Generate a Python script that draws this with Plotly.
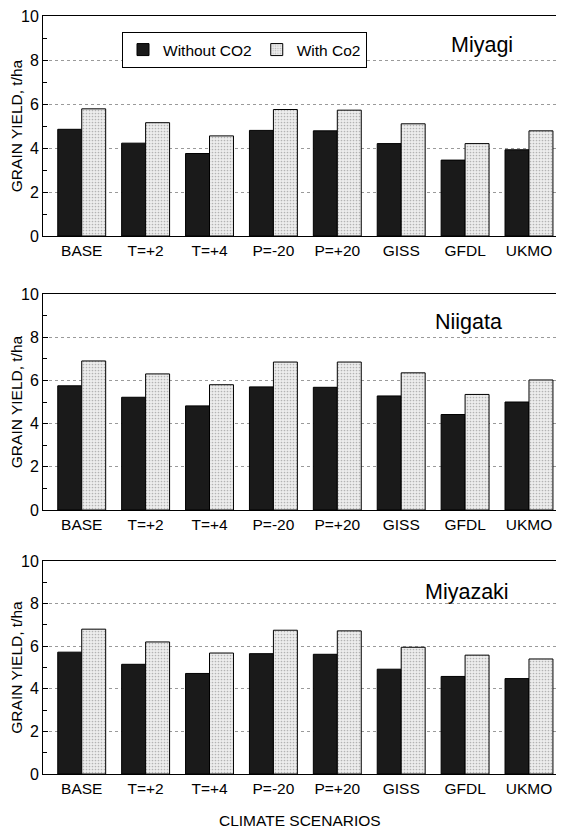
import plotly.graph_objects as go

scenarios = ["BASE", "T=+2", "T=+4", "P=-20", "P=+20", "GISS", "GFDL", "UKMO"]
sites = ["Miyagi", "Niigata", "Miyazaki"]

miyagi_without = [4.85, 4.22, 3.75, 4.80, 4.78, 4.20, 3.45, 3.92]
miyagi_with = [5.78, 5.15, 4.55, 5.75, 5.72, 5.10, 4.20, 4.78]
niigata_without = [5.75, 5.22, 4.82, 5.70, 5.68, 5.28, 4.42, 5.00]
niigata_with = [6.90, 6.30, 5.80, 6.85, 6.85, 6.35, 5.35, 6.02]
miyazaki_without = [5.72, 5.15, 4.72, 5.65, 5.62, 4.92, 4.58, 4.48]
miyazaki_with = [6.80, 6.20, 5.68, 6.75, 6.72, 5.95, 5.58, 5.40]

without_series = [miyagi_without, niigata_without, miyazaki_without]
with_series = [miyagi_with, niigata_with, miyazaki_with]

# page body has an 8px margin, so the figure is drawn 8px lower/right
OFF = 8
W, H = 564 - OFF, 829 - OFF
ml, mr, mt, mb = 43 - OFF, 0, 16 - OFF, 55
ph = H - mt - mb
pw = W - ml - mr


def py(pix):
    return (H - mb - (pix - OFF)) / ph


def px(pix):
    return (pix - OFF - ml) / pw


# panel pixel extents in the reference (top, bottom)
panels = [(16, 236), (294, 510), (561, 774)]
site_label_pos = [(482, 45), (468, 322), (467, 592)]

FONT = "Liberation Sans, Arial, sans-serif"
FS = 15.5

fig = go.Figure()
for i in range(3):
    ax = "" if i == 0 else str(i + 1)
    fig.add_trace(go.Bar(
        x=scenarios, y=without_series[i], name="Without CO2",
        marker=dict(color="#1a1a1a", line=dict(color="black", width=1)),
        xaxis="x" + ax, yaxis="y" + ax, showlegend=(i == 0),
    ))
    fig.add_trace(go.Bar(
        x=scenarios, y=with_series[i], name="With Co2",
        marker=dict(color="#e0e0e0", line=dict(color="black", width=1),
                    pattern=dict(shape=".", fgcolor="#7a7a7a", bgcolor="#ededed",
                                 size=3, solidity=0.25)),
        xaxis="x" + ax, yaxis="y" + ax, showlegend=(i == 0),
    ))
    top, bot = panels[i]
    xa = dict(domain=[0, 1], anchor="y" + ax, showline=True, linecolor="black",
              linewidth=1, mirror=True, ticks="", showgrid=False,
              range=[-0.606, 7.548],
              tickfont=dict(family=FONT, size=FS, color="black"))
    ya = dict(domain=[py(bot), py(top)], anchor="x" + ax, range=[0, 10],
              tickvals=[0, 2, 4, 6, 8, 10], showline=True, linecolor="black",
              linewidth=1, ticks="inside", ticklen=5, tickcolor="black",
              ticklabeloverflow="allow",
              minor=dict(tickvals=[1, 3, 5, 7, 9], ticks="inside", ticklen=4,
                         tickcolor="black"),
              showgrid=True, gridcolor="#9a9a9a", griddash="dot", gridwidth=1,
              zeroline=False,
              tickfont=dict(family=FONT, size=16, color="black"),
              title=dict(text="GRAIN YIELD, t/ha", standoff=3,
                         font=dict(family=FONT, size=FS, color="black")))
    fig.layout["xaxis" + ax] = xa
    fig.layout["yaxis" + ax] = ya
    lx, ly = site_label_pos[i]
    fig.add_annotation(text=sites[i], x=px(lx), y=py(ly),
                       xref="paper", yref="paper", showarrow=False,
                       xanchor="center", yanchor="middle",
                       font=dict(family=FONT, size=21.5, color="black"))

fig.add_annotation(text="CLIMATE SCENARIOS", x=px(300), y=py(820),
                   xref="paper", yref="paper", showarrow=False,
                   xanchor="center", yanchor="middle",
                   font=dict(family=FONT, size=FS, color="black"))

fig.update_layout(
    width=W, height=H, margin=dict(l=ml, r=mr, t=mt, b=mb),
    barmode="group", bargap=0.25, bargroupgap=0,
    plot_bgcolor="white", paper_bgcolor="white",
    font=dict(family=FONT, color="black"),
    legend=dict(orientation="h", x=px(122), y=py(32),
                xanchor="left", yanchor="top", bordercolor="black", borderwidth=1,
                bgcolor="white", font=dict(family=FONT, size=FS, color="black"),
                itemwidth=30, tracegroupgap=0),
)

fig.write_html("out.html")
